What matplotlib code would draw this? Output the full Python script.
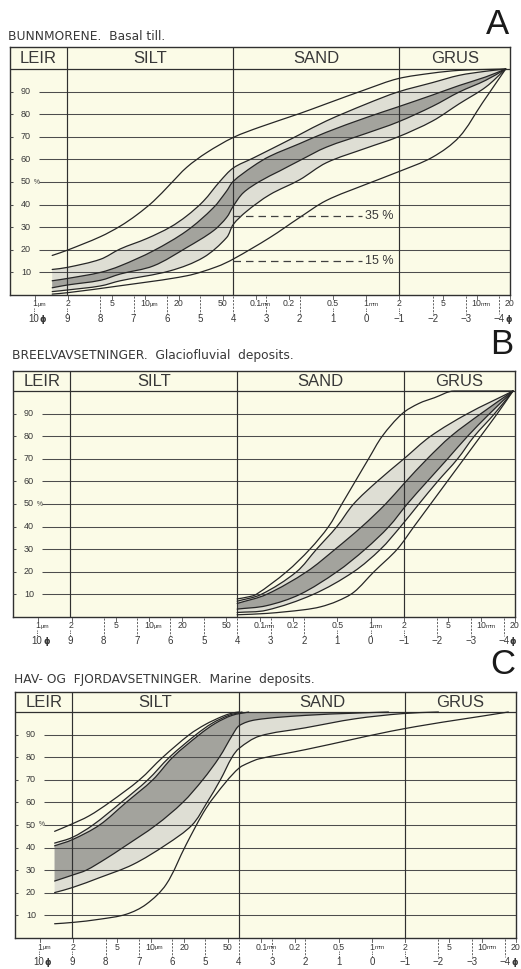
import numpy as np
import matplotlib
matplotlib.use("Agg")
import matplotlib.pyplot as plt
from matplotlib.transforms import blended_transform_factory
from matplotlib.path import Path
from matplotlib.patches import PathPatch

plt.rcParams['font.family'] = ['Liberation Sans', 'DejaVu Sans']

# ---------------- data ----------------
fraction_names = ["LEIR", "SILT", "SAND", "GRUS"]
fraction_limits_phi = [9, 4, -1]
percent_levels = [10, 20, 30, 40, 50, 60, 70, 80, 90]
size_numbers = ["1", "2", "5", "10", "20", "50", "0.1", "0.2", "0.5", "1", "2", "5", "10", "20"]
size_units = ["µm", "", "", "µm", "", "", "mm", "", "", "mm", "", "", "mm", ""]
size_mm = [0.001, 0.002, 0.005, 0.01, 0.02, 0.05, 0.1, 0.2, 0.5, 1, 2, 5, 10, 20]
phi_values = [10, 9, 8, 7, 6, 5, 4, 3, 2, 1, 0, -1, -2, -3, -4]

panel_titles = ["BUNNMORENE.  Basal till.",
                "BREELVAVSETNINGER.  Glaciofluvial  deposits.",
                "HAV- OG  FJORDAVSETNINGER.  Marine  deposits."]
panel_letters = ["A", "B", "C"]

# Panel A  (phi, cumulative %)
a_outer_top_phi = [9.45, 9.0, 8.0, 7.4, 6.9, 6.4, 5.9, 5.4, 4.8, 4.0, 3.2, 2.0, 1.2, 0.0, -0.95, -2.0, -2.8, -3.6, -4.2]
a_outer_top_pct = [17.5, 19.8, 25.8, 30.5, 35.5, 41.5, 49.0, 56.5, 63.0, 69.7, 74.3, 80.3, 84.6, 91.0, 95.7, 98.2, 99.4, 99.8, 100]
a_light_top_phi = [9.45, 9.0, 8.0, 7.4, 6.6, 5.9, 5.4, 4.9, 4.4, 4.0, 3.4, 2.6, 2.0, 1.2, 0.0, -0.95, -2.0, -2.8, -3.6, -4.2]
a_light_top_pct = [11.3, 12.2, 15.8, 20.4, 25.0, 30.0, 35.0, 41.5, 50.3, 56.2, 60.6, 66.5, 71.0, 77.0, 84.5, 89.8, 94.0, 97.2, 99.0, 100]
a_dark_top_phi = [9.45, 9.0, 8.0, 7.4, 6.4, 5.4, 4.6, 4.2, 4.0, 3.4, 2.9, 2.0, 1.2, 0.0, -0.95, -2.0, -2.8, -3.6, -4.2]
a_dark_top_pct = [6.3, 7.3, 10.0, 12.9, 19.6, 28.4, 38.6, 46.0, 50.3, 57.0, 61.4, 67.0, 72.0, 78.5, 83.2, 88.5, 92.7, 96.5, 100]
a_dark_bot_phi = [9.45, 9.0, 8.0, 7.4, 6.4, 5.4, 4.6, 4.2, 4.0, 3.7, 3.2, 2.6, 2.0, 1.2, 0.0, -0.95, -2.0, -2.8, -3.6, -4.2]
a_dark_bot_pct = [3.2, 4.4, 6.5, 9.3, 12.9, 21.0, 28.4, 34.3, 39.3, 45.2, 50.3, 54.9, 59.5, 65.4, 71.5, 76.5, 83.5, 89.8, 95.0, 100]
a_light_bot_phi = [9.45, 9.0, 8.0, 7.4, 5.9, 4.9, 4.2, 4.0, 3.6, 2.9, 2.0, 1.2, 0.0, -0.95, -2.0, -2.8, -3.6, -4.2]
a_light_bot_pct = [1.5, 2.2, 4.0, 6.3, 10.7, 16.6, 25.4, 31.2, 37.0, 44.4, 51.0, 58.5, 65.0, 69.9, 77.0, 84.6, 92.0, 100]
a_outer_bot_phi = [9.45, 9.0, 7.4, 5.4, 4.5, 4.0, 2.9, 2.0, 1.2, 0.0, -0.95, -2.0, -2.8, -3.5, -4.2]
a_outer_bot_pct = [0.4, 1.0, 4.1, 8.5, 12.5, 15.9, 25.4, 34.3, 41.8, 49.0, 54.4, 61.0, 69.9, 85.0, 100]
a_marker_levels = [35, 15]
a_marker_labels = ["35 %", "15 %"]

# Panel B
b_outer_top_phi = [4.0, 3.7, 3.43, 2.52, 1.82, 1.26, 0.86, 0.46, 0.06, -0.35, -0.95, -1.45, -1.91, -2.51, -4.27]
b_outer_top_pct = [8.0, 8.8, 10, 20, 30, 40, 50, 60, 70, 80, 90, 94.5, 97, 100, 100]
b_light_top_phi = [4.0, 3.28, 2.22, 1.62, 1.01, 0.51, -0.20, -1.0, -1.80, -2.91, -4.27]
b_light_top_pct = [7.0, 10, 20, 30, 40, 50, 60, 70, 80, 90, 100]
b_dark_top_phi = [4.0, 3.12, 1.92, 1.06, 0.26, -0.45, -1.0, -1.70, -2.41, -3.31, -4.27]
b_dark_top_pct = [6.0, 10, 20, 30, 40, 50, 59, 70, 80, 90, 100]
b_dark_bot_phi = [4.0, 3.12, 2.12, 1.01, 0.16, -0.55, -1.1, -1.70, -2.31, -2.91, -3.57, -4.27]
b_dark_bot_pct = [3.5, 5.0, 10, 20, 30, 40, 50, 60, 70, 80, 90, 100]
b_light_bot_phi = [4.0, 3.12, 1.72, 0.51, -0.30, -0.90, -1.45, -2.01, -2.61, -3.11, -3.72, -4.27]
b_light_bot_pct = [2.0, 3.0, 10, 20, 30, 40, 50, 60, 70, 80, 90, 100]
b_outer_bot_phi = [4.0, 3.1, 2.0, 1.5, 1.0, 0.5, -0.1, -0.8, -1.3, -1.8, -2.3, -2.8, -3.3, -3.8, -4.27]
b_outer_bot_pct = [1.0, 1.6, 3.2, 4.5, 7.0, 11, 20, 30, 40, 50, 60, 70, 80, 90, 100]

# Panel C
c_outer_top_phi = [9.53, 9.08, 8.5, 7.88, 6.98, 6.28, 5.48, 5.0, 4.5, 4.2, 4.0]
c_outer_top_pct = [47.2, 50, 54, 60, 70, 80, 90, 94.5, 98, 99.5, 100]
c_light_top_phi = [9.53, 9.0, 8.38, 7.53, 6.73, 6.08, 5.28, 4.8, 4.3, 3.9]
c_light_top_pct = [42.0, 44.5, 50, 60, 70, 80, 90, 95, 98.5, 100]
c_dark_top_phi = [9.53, 9.0, 8.18, 7.38, 6.58, 5.98, 5.18, 4.7, 4.2, 3.7]
c_dark_top_pct = [40.8, 43.5, 50, 60, 70, 80, 90, 95, 98.5, 100]
c_dark_bot_phi = [9.53, 9.0, 8.58, 8.0, 7.48, 6.48, 5.68, 5.08, 4.58, 4.18, 3.98, 3.5, 2.0, 0.5, -0.5]
c_dark_bot_pct = [25.2, 27.8, 30, 35, 40, 50, 60, 70, 80, 90, 94, 96.5, 98.5, 99.5, 100]
c_light_bot_phi = [9.53, 9.0, 8.18, 7.18, 6.18, 5.4, 4.95, 4.55, 4.2, 3.98, 3.38, 2.0, 0.5, -0.93, -2.0]
c_light_bot_pct = [20.1, 22.3, 26.7, 32.5, 41.3, 50, 60, 70, 80, 84, 89.3, 93, 97, 99.3, 100]
c_outer_bot_phi = [9.53, 8.98, 8.18, 7.38, 6.78, 6.18, 5.58, 4.98, 4.38, 3.98, 3.7, 3.38, 1.98, -0.93, -4.1]
c_outer_bot_pct = [6.3, 6.9, 8.3, 10.5, 14.9, 23.7, 41.3, 57.4, 69.1, 75.3, 77.5, 79.3, 83.4, 92.5, 100]

# ---------------- style / layout ----------------
W, H = 521, 969
CREAM = "#FBFBE7"
LIGHT = "#DEDED4"
DARK = "#A3A39D"
LINE = "#262626"
GRID = "#4d4d4d"
TXT = "#383838"
PX_PER_PCT = 2.26
PX_PER_PHI = 33.2
XLIM = (10.72, -4.33)

layout = [
    dict(x0=10, x1=510, ybot=295, ytop=47, title_x=8, title_y=36, letter_x=509, letter_y=24),
    dict(x0=13, x1=515, ybot=617, ytop=371, title_x=12, title_y=356, letter_x=513, letter_y=344),
    dict(x0=15, x1=516, ybot=938, ytop=692, title_x=14, title_y=680, letter_x=515, letter_y=664),
]

panels = [
    dict(outer_top=(a_outer_top_phi, a_outer_top_pct), light_top=(a_light_top_phi, a_light_top_pct),
         dark_top=(a_dark_top_phi, a_dark_top_pct), dark_bot=(a_dark_bot_phi, a_dark_bot_pct),
         light_bot=(a_light_bot_phi, a_light_bot_pct), outer_bot=(a_outer_bot_phi, a_outer_bot_pct)),
    dict(outer_top=(b_outer_top_phi, b_outer_top_pct), light_top=(b_light_top_phi, b_light_top_pct),
         dark_top=(b_dark_top_phi, b_dark_top_pct), dark_bot=(b_dark_bot_phi, b_dark_bot_pct),
         light_bot=(b_light_bot_phi, b_light_bot_pct), outer_bot=(b_outer_bot_phi, b_outer_bot_pct)),
    dict(outer_top=(c_outer_top_phi, c_outer_top_pct), light_top=(c_light_top_phi, c_light_top_pct),
         dark_top=(c_dark_top_phi, c_dark_top_pct), dark_bot=(c_dark_bot_phi, c_dark_bot_pct),
         light_bot=(c_light_bot_phi, c_light_bot_pct), outer_bot=(c_outer_bot_phi, c_outer_bot_pct)),
]

fig = plt.figure(figsize=(W / 100, H / 100), dpi=100)
fig.patch.set_facecolor("white")

PT = 0.72  # points per pixel at 100 dpi


def smooth_vertices(xs, ys):
    """Cubic Bezier vertices passing through the read points (drawing only)."""
    P = np.column_stack([np.asarray(xs, float) * PX_PER_PHI, np.asarray(ys, float) * PX_PER_PCT])
    n = len(P)
    d = np.hypot(*np.diff(P, axis=0).T)
    T = np.zeros_like(P)
    T[0] = (P[1] - P[0]) / d[0]
    T[-1] = (P[-1] - P[-2]) / d[-1]
    for i in range(1, n - 1):
        T[i] = (P[i + 1] - P[i - 1]) / (d[i - 1] + d[i])
        for c in range(2):
            if (P[i, c] - P[i - 1, c]) * (P[i + 1, c] - P[i, c]) <= 0:
                T[i, c] = 0.0
    verts = [P[0]]
    for i in range(n - 1):
        verts += [P[i] + T[i] * d[i] / 3, P[i + 1] - T[i + 1] * d[i] / 3, P[i + 1]]
    V = np.array(verts)
    V[:, 0] /= PX_PER_PHI
    V[:, 1] /= PX_PER_PCT
    return V


def curve_path(xs, ys):
    V = smooth_vertices(xs, ys)
    codes = [Path.MOVETO] + [Path.CURVE4] * (len(V) - 1)
    return Path(V, codes)


def band_path(top, bot):
    Vt = smooth_vertices(*top)
    Vb = smooth_vertices(list(bot[0])[::-1], list(bot[1])[::-1])
    verts = np.vstack([Vt, Vb, Vt[:1]])
    codes = ([Path.MOVETO] + [Path.CURVE4] * (len(Vt) - 1) + [Path.LINETO] +
             [Path.CURVE4] * (len(Vb) - 1) + [Path.CLOSEPOLY])
    return Path(verts, codes)


for i, (lay, pan) in enumerate(zip(layout, panels)):
    h_px = lay["ybot"] - lay["ytop"]
    top_units = h_px / PX_PER_PCT
    ax = fig.add_axes([lay["x0"] / W, 1 - lay["ybot"] / H,
                       (lay["x1"] - lay["x0"]) / W, h_px / H])
    ax.set_xlim(*XLIM)
    ax.set_ylim(0, top_units)
    ax.set_facecolor(CREAM)
    ax.set_xticks([])
    ax.set_yticks([])
    for s in ax.spines.values():
        s.set_color("#303030")
        s.set_linewidth(1.0)
    px_per_phi = (lay["x1"] - lay["x0"]) / (XLIM[0] - XLIM[1])

    # bands
    ax.add_patch(PathPatch(band_path(pan["light_top"], pan["light_bot"]), facecolor=LIGHT, lw=0, zorder=2))
    ax.add_patch(PathPatch(band_path(pan["dark_top"], pan["dark_bot"]), facecolor=DARK, lw=0, zorder=2.5))

    # grid
    grid_start = XLIM[0] - 29 / px_per_phi
    ax.hlines(percent_levels, grid_start, XLIM[1], color=GRID, lw=0.75, zorder=3)
    ax.hlines(percent_levels, XLIM[0], XLIM[0] - 3 / px_per_phi, color=GRID, lw=0.75, zorder=3)
    ax.hlines([100], XLIM[0], XLIM[1], color="#303030", lw=0.9, zorder=3)
    for b in fraction_limits_phi:
        ax.axvline(b, color="#303030", lw=0.85, zorder=3)

    # y labels
    lab_x = XLIM[0] - 16 / px_per_phi
    for lv in percent_levels:
        ax.text(lab_x, lv, str(lv), ha="center", va="center", fontsize=6.5, color=TXT, zorder=4)
        if lv == 50:
            ax.text(XLIM[0] - 23.5 / px_per_phi, lv, "%", ha="left", va="center",
                    fontsize=4.8, color=TXT, zorder=4)

    # header labels
    edges = [XLIM[0]] + fraction_limits_phi + [XLIM[1]]
    for k, name in enumerate(fraction_names):
        ax.text((edges[k] + edges[k + 1]) / 2, (100 + top_units) / 2 - 0.2, name,
                ha="center", va="center", fontsize=12, color=TXT, zorder=4)

    # curves
    for key in ["outer_top", "light_top", "dark_top", "dark_bot", "light_bot", "outer_bot"]:
        ph, pc = pan[key]
        ax.add_patch(PathPatch(curve_path(ph, pc), facecolor="none", edgecolor=LINE, lw=0.9,
                               zorder=5, capstyle="round", joinstyle="round", clip_on=False))

    if i == 0:
        for lv, lab in zip(a_marker_levels, a_marker_labels):
            ax.plot([4, 0.12], [lv, lv], color="#404040", lw=0.9, dashes=(6, 4), zorder=5)
            ax.text(0.02, lv, lab, ha="left", va="center", fontsize=9, color=TXT, zorder=5)

    # bottom scale
    tr = blended_transform_factory(ax.transData, ax.transAxes)
    fy = lambda px: -px / h_px
    phi_sizes = [-np.log2(m) for m in size_mm]
    for ph, num, unit in zip(phi_sizes, size_numbers, size_units):
        ax.annotate(num, xy=(ph, 0), xycoords=tr, xytext=(0, -9 * PT),
                    textcoords="offset points", ha="center", va="center",
                    fontsize=6.3, color=TXT, annotation_clip=False)
        if unit:
            wnum = len(num.replace(".", "")) * 3.5 + (1.7 if "." in num else 0)
            ax.annotate(unit, xy=(ph, 0), xycoords=tr, xytext=((wnum / 2 + 0.8) * PT, -9.5 * PT),
                        textcoords="offset points", ha="left", va="center",
                        fontsize=4.5, color=TXT, annotation_clip=False)
        ax.plot([ph, ph], [fy(1), fy(4)], transform=tr, color=GRID, lw=0.6, clip_on=False)
    for pv in phi_values:
        has = any(abs(pv - p) < 0.05 for p in phi_sizes)
        if has:
            ax.plot([pv, pv], [fy(13), fy(19)], transform=tr, color=GRID, lw=0.6,
                    dashes=(1.5, 1.2), clip_on=False)
        else:
            ax.plot([pv, pv], [fy(1), fy(19)], transform=tr, color=GRID, lw=0.6,
                    dashes=(2.5, 1.6), clip_on=False)
        lab = str(pv).replace("-", "\u2212")
        ax.annotate(lab, xy=(pv, 0), xycoords=tr, xytext=(0, -24 * PT),
                    textcoords="offset points", ha="center", va="center",
                    fontsize=7, color=TXT, annotation_clip=False)
        if pv in (10, -4):
            ax.annotate("\u03d5", xy=(pv, 0), xycoords=tr, xytext=(6 * PT, -24.5 * PT),
                        textcoords="offset points", ha="left", va="center",
                        fontsize=6, fontweight="bold", color=TXT, annotation_clip=False,
                        family=["DejaVu Sans"])

    # titles
    fig.text(lay["title_x"] / W, 1 - lay["title_y"] / H, panel_titles[i], ha="left", va="center",
             fontsize=8.8, color=TXT, family=["DejaVu Sans"])
    fig.text(lay["letter_x"] / W, 1 - lay["letter_y"] / H, panel_letters[i], ha="right", va="center",
             fontsize=25, color="#1a1a1a")

fig.savefig("out.png", dpi=100, facecolor="white")
